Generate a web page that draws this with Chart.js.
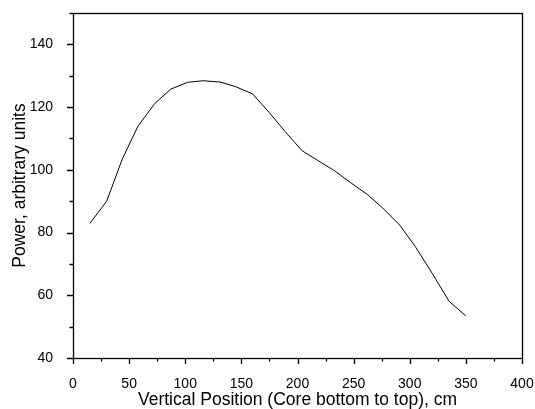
<!DOCTYPE html>
<html>
<head>
<meta charset="utf-8">
<script src="https://cdn.jsdelivr.net/npm/chart.js@4"></script>
<style>
html,body{margin:0;padding:0;background:#fff;}
#wrap{width:535px;height:409px;}
</style>
</head>
<body>
<div id="wrap"><canvas id="c"></canvas></div>
<script>
const positions = [15, 30, 44, 58, 73, 87, 102, 116, 131, 145, 160, 175, 189, 204, 218, 233, 247, 262, 276, 291, 305, 320, 335, 350];
const power = [82.9, 90, 103.5, 114, 121.2, 125.7, 127.9, 128.4, 128.0, 126.5, 124.2, 118.2, 112.2, 106.1, 103.0, 99.7, 96.0, 92.2, 87.8, 82.4, 75.5, 67.0, 58.1, 53.4];
const xTicks = [0, 50, 100, 150, 200, 250, 300, 350, 400];
const yTicks = [40, 60, 80, 100, 120, 140];
const xTitle = 'Vertical Position (Core bottom to top), cm';
const yTitle = 'Power, arbitrary units';

const FONT = 'Liberation Sans, Arial, sans-serif';

const tickPlugin = {
  id: 'originTicks',
  afterDraw(chart) {
    const ctx = chart.ctx;
    const a = chart.chartArea;
    const xs = chart.scales.x, ys = chart.scales.y;
    ctx.save();
    ctx.strokeStyle = '#000';
    ctx.lineWidth = 1.3;
    ctx.strokeRect(Math.round(a.left) + 0.5, Math.round(a.top) + 0.5, Math.round(a.right - a.left), Math.round(a.bottom - a.top));
    ctx.beginPath();
    xs.ticks.forEach(t => {
      const px = Math.round(xs.getPixelForValue(t.value)) + 0.5;
      const len = xTicks.includes(t.value) ? 6 : 3.5;
      ctx.moveTo(px, a.bottom);
      ctx.lineTo(px, a.bottom + len);
    });
    ys.ticks.forEach(t => {
      const py = Math.round(ys.getPixelForValue(t.value)) + 0.5;
      const len = yTicks.includes(t.value) ? 6 : 3.5;
      ctx.moveTo(a.left, py);
      ctx.lineTo(a.left - len, py);
    });
    ctx.stroke();
    ctx.restore();
  }
};

new Chart(document.getElementById('c'), {
  type: 'line',
  data: {
    datasets: [{
      data: positions.map((p, i) => ({x: p, y: power[i]})),
      borderColor: '#000',
      borderWidth: 1,
      pointRadius: 0,
      tension: 0,
      fill: false
    }]
  },
  options: {
    responsive: true,
    maintainAspectRatio: false,
    animation: false,
    devicePixelRatio: 1,
    layout: {padding: {left: 0, top: 13, right: 13, bottom: 0}},
    plugins: {legend: {display: false}, tooltip: {enabled: false}},
    scales: {
      x: {
        type: 'linear', min: 0, max: 400,
        grid: {display: false},
        border: {display: false},
        ticks: {
          stepSize: 25, autoSkip: false, maxRotation: 0, padding: 10,
          color: '#000', font: {family: FONT, size: 14},
          callback: v => xTicks.includes(v) ? String(v) : ''
        },
        title: {display: true, text: xTitle, color: '#000', font: {family: FONT, size: 17.5, lineHeight: 1}, padding: {top: 0, bottom: 0}},
        afterFit: s => { s.height = 51; s.paddingLeft = 0; s.paddingRight = 0; }
      },
      y: {
        type: 'linear', min: 40, max: 150,
        grid: {display: false},
        border: {display: false},
        ticks: {
          stepSize: 10, autoSkip: false, padding: 12,
          color: '#000', font: {family: FONT, size: 14},
          callback: v => yTicks.includes(v) ? String(v) : ''
        },
        title: {display: true, text: yTitle, color: '#000', font: {family: FONT, size: 17.5, lineHeight: 1}, padding: {top: 11, bottom: 0}},
        afterFit: s => { s.width = 73; s.paddingTop = 0; s.paddingBottom = 0; }
      }
    }
  },
  plugins: [tickPlugin]
});
</script>
</body>
</html>
